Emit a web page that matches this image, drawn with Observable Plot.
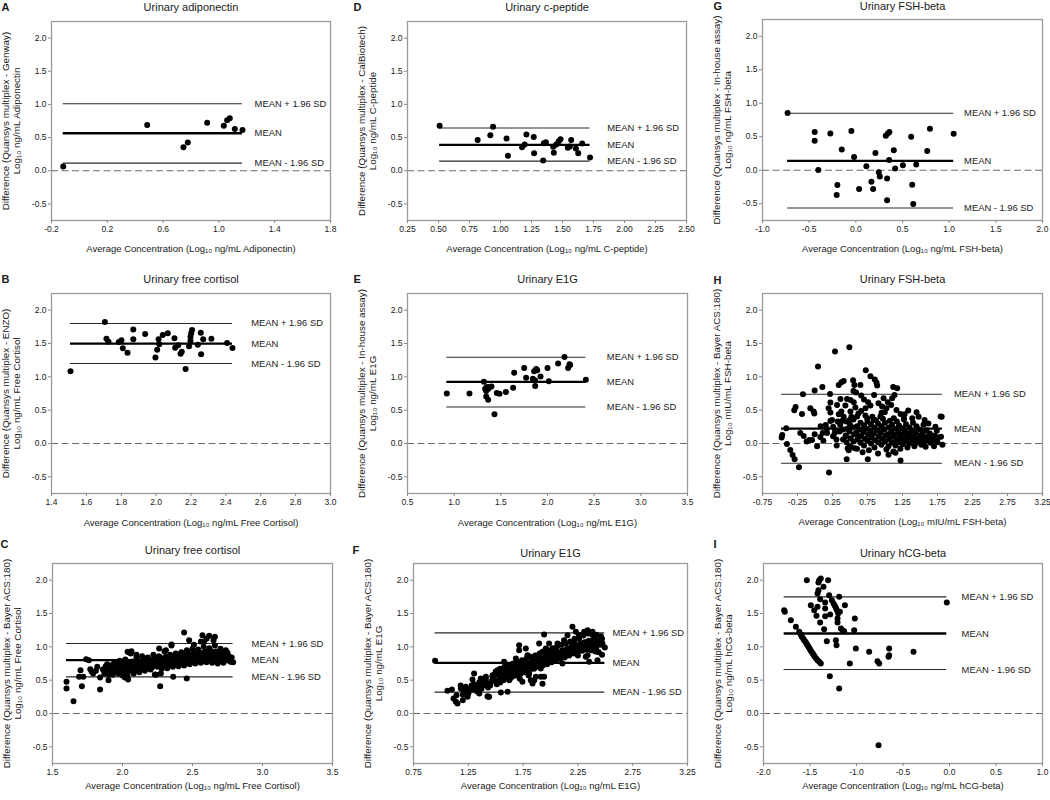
<!DOCTYPE html>
<html><head><meta charset="utf-8">
<script src="https://cdn.jsdelivr.net/npm/d3@7"></script>
<script src="https://cdn.jsdelivr.net/npm/@observablehq/plot@0.6"></script>
<style>
body{margin:0;background:#fff;}
#root{position:relative;width:1050px;height:800px;overflow:hidden;background:#fff;}
#root svg{position:absolute;overflow:visible;}
</style></head><body><div id="root"></div>
<script>
// ---------- data ----------
const limitLabels = ["MEAN + 1.96 SD", "MEAN", "MEAN - 1.96 SD"];
const yTicks = [-0.5, 0, 0.5, 1, 1.5, 2];

const ticksA = [-0.2, 0.2, 0.6, 1.0, 1.4, 1.8];
const ticksD = [0.25, 0.5, 0.75, 1.0, 1.25, 1.5, 1.75, 2.0, 2.25, 2.5];
const ticksG = [-1.0, -0.5, 0, 0.5, 1.0, 1.5, 2.0];
const ticksB = [1.4, 1.6, 1.8, 2.0, 2.2, 2.4, 2.6, 2.8, 3.0];
const ticksE = [0.5, 1.0, 1.5, 2.0, 2.5, 3.0, 3.5];
const ticksH = [-0.75, -0.25, 0.25, 0.75, 1.25, 1.75, 2.25, 2.75, 3.25];
const ticksC = [1.5, 2.0, 2.5, 3.0, 3.5];
const ticksF = [0.75, 1.25, 1.75, 2.25, 2.75, 3.25];
const ticksI = [-2.0, -1.5, -1.0, -0.5, 0, 0.5, 1.0];

const limA = [1.01, 0.565, 0.115];
const limD = [0.645, 0.39, 0.145];
const limG = [0.851, 0.139, -0.564];
const limB = [1.801, 1.497, 1.199];
const limE = [1.294, 0.925, 0.547];
const limH = [0.739, 0.224, -0.296];
const limC = [1.05, 0.8, 0.55];
const limF = [1.21, 0.76, 0.32];
const limI = [1.75, 1.2, 0.66];

const ptsA = [[-0.116,0.065],[0.486,0.69],[0.746,0.355],[0.777,0.425],[0.916,0.725],[1.035,0.68],[1.059,0.76],[1.078,0.79],[1.114,0.63],[1.169,0.615]];

const ptsD = [[0.509,0.68],[0.816,0.465],[0.918,0.535],[0.94,0.665],[1.049,0.485],[1.06,0.225],[1.174,0.355],[1.195,0.395],[1.209,0.545],[1.268,0.51],[1.271,0.265],[1.344,0.155],[1.35,0.415],[1.366,0.43],[1.425,0.36],[1.43,0.27],[1.45,0.395],[1.47,0.445],[1.484,0.475],[1.543,0.345],[1.559,0.365],[1.57,0.465],[1.608,0.335],[1.627,0.265],[1.659,0.41],[1.722,0.2]];

const ptsG = [[-0.731,0.856],[-0.441,0.57],[-0.441,0.44],[-0.402,0.005],[-0.273,0.55],[-0.151,0.31],[-0.198,-0.22],[-0.205,-0.37],[-0.048,0.584],[-0.019,0.198],[0.035,-0.28],[0.113,0.06],[0.21,0.257],[0.167,-0.173],[0.185,-0.28],[0.246,-0.03],[0.257,-0.094],[0.321,0.515],[0.335,-0.124],[0.343,0.55],[0.36,0.57],[0.357,0.153],[0.335,-0.446],[0.407,0.297],[0.421,0.025],[0.504,0.074],[0.593,0.5],[0.604,-0.218],[0.615,-0.505],[0.647,0.084],[0.765,0.287],[0.794,0.619],[1.048,0.545]];

const ptsB = [[1.509,1.085],[1.706,1.821],[1.715,1.572],[1.727,1.527],[1.786,1.522],[1.801,1.547],[1.809,1.428],[1.836,1.363],[1.869,1.711],[1.869,1.562],[1.937,1.642],[1.996,1.289],[2.006,1.408],[2.014,1.562],[2.018,1.488],[2.038,1.627],[2.067,1.652],[2.105,1.577],[2.109,1.438],[2.126,1.473],[2.14,1.348],[2.147,1.378],[2.169,1.119],[2.189,1.458],[2.197,1.602],[2.197,1.542],[2.201,1.652],[2.206,1.701],[2.239,1.483],[2.256,1.662],[2.258,1.338],[2.27,1.562],[2.317,1.572],[2.407,1.507],[2.438,1.433]];

const ptsE = [[0.921,0.751],[1.164,0.751],[1.318,0.925],[1.332,0.82],[1.35,0.846],[1.343,0.786],[1.364,0.816],[1.382,0.846],[1.4,0.856],[1.343,0.706],[1.364,0.657],[1.432,0.438],[1.457,0.756],[1.486,0.746],[1.554,0.771],[1.632,0.836],[1.643,1.06],[1.75,1.134],[1.771,0.985],[1.843,0.97],[1.857,1.085],[1.868,0.945],[1.868,0.861],[1.879,1.119],[1.89,1.10],[1.925,1.005],[2.0,1.134],[2.014,0.935],[2.114,1.199],[2.182,1.299],[2.221,1.134],[2.236,1.189],[2.243,1.179],[2.411,0.955]];

const ptsH = [
 [0.491,1.444],[0.286,1.379],[0.043,1.154],[0.725,1.099],[0.792,1.009],[0.854,0.959],[0.878,0.914],[0.888,0.869],[0.105,0.849],[0.339,0.879],[0.377,0.919],[0.41,0.939],[0.544,0.949],[0.563,0.879],[0.649,0.879],[0.549,0.789],[0.587,0.764],[-0.005,0.794],[-0.172,0.739],[0.215,0.744],[0.845,0.729],[1.117,0.849],[1.174,0.829],[1.136,0.729],[1.102,0.679],[0.22,0.614],[0.363,0.669],[0.458,0.669],[0.506,0.654],[0.195,0.529],[-0.277,0.549],[-0.296,0.499],[-0.186,0.444],[-0.067,0.529],[-0.019,0.479],[-0.01,0.449],[0.22,0.464],[0.377,0.479],[0.315,0.579],[0.434,0.569],[0.554,0.619],[0.577,0.539],[0.506,0.479],[0.659,0.489],[0.721,0.529],[0.759,0.619],[0.792,0.569],[0.907,0.604],[0.959,0.554],[1.021,0.529],[1.088,0.579],[0.997,0.469],[1.164,0.504],[1.222,0.444],[1.332,0.494],[1.451,0.469],[1.389,0.379],[1.566,0.354],[1.795,0.404],[1.269,0.379],[1.126,0.379],[0.935,0.404],[0.84,0.354],[0.745,0.379],[0.601,0.404],[0.496,0.354],[0.387,0.339],[0.324,0.329],[0.22,0.339],[0.243,0.354],[0.153,0.279],[-0.411,0.229],[-0.468,0.129],[-0.477,0.089],[-0.401,-0.006],[-0.353,-0.096],[-0.32,-0.171],[-0.291,-0.236],[-0.229,-0.356],[0.2,-0.436],[0.453,-0.236],[0.754,-0.236],[1.222,-0.256],[-0.21,0.159],[-0.162,0.114],[-0.081,0.054],[-0.043,0.054],[-0.005,0.139],[0.076,0.099],[0.11,0.159],[0.172,0.159],[0.258,0.109],[0.282,0.159],[0.306,0.059],[0.353,0.179],[0.401,0.059],[0.439,0.109],[0.467,-0.071],[0.482,-0.101],[0.506,-0.046],[0.568,-0.071],[0.601,0.129],
 [0.12,0.04],[0.17,0.22],[0.26,0.25],[0.29,0.20],[0.31,-0.03],[0.36,0.28],[0.40,0.21],[0.41,0.40],[0.34,0.44],[-0.12,0.03],[0.03,-0.04],[0.08,0.26],[0.90,-0.15],[1.05,-0.17],[1.15,-0.14],[0.68,-0.13],[1.58,-0.05],[1.70,-0.04],[1.48,0.40],[1.62,0.30],[1.72,0.25],[0.95,0.46],[1.28,0.44],[0.66,0.72],[0.70,0.66],[0.98,0.68],[1.04,0.62],
 [0.45,0.02],[0.44,0.12],[0.46,0.22],[0.45,0.33],
 [0.50,-0.05],[0.51,0.08],[0.49,0.18],[0.50,0.28],[0.52,0.40],
 [0.55,0.03],[0.56,0.14],[0.54,0.24],[0.55,0.36],
 [0.60,-0.08],[0.61,0.06],[0.59,0.16],[0.60,0.26],[0.62,0.45],
 [0.65,0.01],[0.66,0.11],[0.64,0.21],[0.65,0.31],
 [0.70,-0.03],[0.71,0.07],[0.69,0.17],[0.70,0.27],[0.72,0.42],
 [0.75,0.04],[0.76,0.13],[0.74,0.22],[0.75,0.33],[0.77,-0.10],
 [0.80,0.00],[0.81,0.09],[0.79,0.19],[0.80,0.29],[0.82,0.40],
 [0.85,-0.06],[0.86,0.05],[0.84,0.15],[0.85,0.24],[0.87,0.35],
 [0.90,0.02],[0.91,0.11],[0.89,0.20],[0.90,0.30],
 [0.95,-0.02],[0.96,0.07],[0.94,0.16],[0.95,0.26],[0.97,0.37],
 [1.00,0.03],[1.01,0.12],[0.99,0.21],[1.00,0.31],[1.02,-0.09],
 [1.05,-0.04],[1.06,0.06],[1.04,0.14],[1.05,0.24],[1.07,0.34],
 [1.10,0.01],[1.11,0.10],[1.09,0.18],[1.10,0.28],[1.12,-0.12],
 [1.15,-0.03],[1.16,0.05],[1.14,0.13],[1.15,0.22],[1.17,0.33],
 [1.20,0.02],[1.21,0.09],[1.19,0.17],[1.20,0.27],[1.22,-0.08],
 [1.25,-0.01],[1.26,0.06],[1.24,0.14],[1.25,0.23],[1.27,0.36],
 [1.30,0.03],[1.31,0.10],[1.29,0.18],[1.30,0.29],[1.32,-0.06],
 [1.35,0.00],[1.36,0.07],[1.34,0.15],[1.35,0.24],
 [1.40,0.04],[1.41,0.11],[1.39,0.19],[1.40,0.31],[1.42,-0.04],
 [1.45,0.01],[1.46,0.08],[1.44,0.16],[1.45,0.26],
 [1.50,0.05],[1.51,0.12],[1.49,0.21],[1.52,-0.02],
 [1.55,0.02],[1.56,0.09],[1.54,0.17],[1.55,0.28],
 [1.60,0.04],[1.61,0.11],[1.59,0.20],
 [1.65,0.01],[1.66,0.07],[1.64,0.15],
 [1.70,0.05],[1.71,0.12],
 [1.75,0.02],[1.76,0.09],[1.74,0.19],
 [1.80,0.10],[1.81,0.40],[1.82,-0.02]
];

const ptsC = [
 [1.60,0.475],[1.60,0.375],[1.65,0.185],[1.69,0.55],[1.70,0.65],[1.72,0.55],[1.71,0.41],[1.74,0.815],[1.76,0.80],[1.77,0.665],[1.78,0.625],[1.79,0.60],[1.84,0.36],[1.84,0.54],[1.90,0.5],[1.82,0.70],[1.81,0.64],
 [1.87,0.60],[1.86,0.66],[1.88,0.71],[1.89,0.63],[1.90,0.69],[1.89,0.74],[1.90,0.58],[1.91,0.62],[1.92,0.67],[1.91,0.72],
 [1.93,0.58],[1.94,0.65],[1.93,0.70],[1.94,0.76],[1.95,0.63],[1.96,0.68],[1.95,0.73],[1.97,0.60],[1.98,0.66],[1.97,0.71],[1.98,0.79],
 [1.99,0.64],[2.00,0.69],[1.99,0.75],[2.00,0.57],[2.01,0.62],[2.02,0.68],[2.01,0.72],[2.02,0.81],[2.03,0.66],[2.04,0.71],[2.03,0.76],[2.04,0.51],
 [2.05,0.64],[2.06,0.70],[2.05,0.74],[2.06,0.90],[2.07,0.67],[2.08,0.72],[2.07,0.78],[2.08,0.60],[2.09,0.65],[2.10,0.71],[2.09,0.75],[2.10,0.84],
 [2.11,0.68],[2.12,0.73],[2.11,0.79],[2.12,0.62],[2.13,0.66],[2.14,0.72],[2.13,0.77],[2.14,0.86],[2.15,0.70],[2.16,0.75],[2.15,0.80],[2.16,0.64],
 [2.17,0.68],[2.18,0.73],[2.17,0.78],[2.18,0.84],[2.19,0.71],[2.20,0.76],[2.19,0.81],[2.20,0.66],[2.21,0.69],[2.22,0.74],[2.21,0.80],[2.22,0.88],
 [2.23,0.72],[2.24,0.77],[2.23,0.82],[2.24,0.58],[2.25,0.70],[2.26,0.76],[2.25,0.81],[2.26,0.86],[2.27,0.73],[2.28,0.78],[2.27,0.84],[2.28,0.67],
 [2.29,0.71],[2.30,0.77],[2.29,0.82],[2.30,0.93],[2.31,0.74],[2.32,0.79],[2.31,0.85],[2.32,0.68],[2.33,0.72],[2.34,0.78],[2.33,0.83],[2.34,0.88],
 [2.35,0.75],[2.36,0.81],[2.35,0.86],[2.36,0.70],[2.35,1.02],[2.37,0.74],[2.38,0.79],[2.37,0.84],[2.38,0.90],[2.39,0.76],[2.40,0.82],[2.39,0.87],[2.40,0.71],
 [2.41,0.75],[2.42,0.80],[2.41,0.85],[2.42,0.92],[2.43,0.78],[2.44,0.83],[2.43,0.88],[2.44,0.72],[2.45,0.76],[2.46,0.82],[2.45,0.87],[2.46,0.95],
 [2.47,0.79],[2.48,0.84],[2.47,0.90],[2.48,0.74],[2.49,0.77],[2.50,0.83],[2.49,0.88],[2.50,0.97],[2.51,0.80],[2.52,0.86],[2.51,0.91],[2.52,0.75],[2.51,1.03],
 [2.53,0.78],[2.54,0.84],[2.53,0.89],[2.54,0.96],[2.55,0.81],[2.56,0.87],[2.55,0.92],[2.56,0.76],[2.57,0.79],[2.58,0.85],[2.57,0.90],[2.58,1.00],
 [2.59,0.82],[2.60,0.88],[2.59,0.93],[2.60,0.77],[2.61,0.80],[2.62,0.86],[2.61,0.91],[2.62,0.98],[2.63,0.83],[2.64,0.88],[2.63,0.94],[2.64,0.76],
 [2.65,0.81],[2.66,0.87],[2.65,0.92],[2.66,1.02],[2.67,0.82],[2.68,0.88],[2.67,0.93],[2.68,0.75],[2.69,0.80],[2.70,0.86],[2.69,0.91],[2.70,0.97],
 [2.71,0.81],[2.72,0.87],[2.71,0.92],[2.72,0.76],[2.73,0.79],[2.74,0.85],[2.73,0.90],[2.75,0.80],[2.76,0.86],[2.75,0.91],[2.77,0.78],[2.78,0.84],[2.79,0.77],
 [2.036,0.925],[2.064,0.935],[2.017,0.54],[2.036,0.565],[2.231,0.585],[2.274,0.6],[2.269,0.41],[2.362,0.55],[2.459,0.525],[2.262,0.975],[2.31,0.95],[2.35,1.035],[2.44,1.215],[2.476,1.1],[2.571,1.175],[2.619,1.165],[2.65,1.1],[2.583,1.075],[2.738,0.95],[2.774,0.775],[2.05,0.91],[2.10,0.88],[2.56,1.08],[2.60,1.12],[2.66,1.15]
];

const ptsF = [
 [0.947,0.79],[1.06,0.34],[1.115,0.225],[1.136,0.175],[1.151,0.15],[1.142,0.275],[1.182,0.375],[1.212,0.325],[1.227,0.4],[1.243,0.25],[1.273,0.35],[1.303,0.39],[1.288,0.51],[1.303,0.6],[1.334,0.425],[1.364,0.525],[1.379,0.465],[1.395,0.435],[1.41,0.55],[1.431,0.25],[1.449,0.45],[1.471,0.575],[1.486,0.5],[1.516,0.65],[1.531,0.575],[1.547,0.315],[1.541,0.465],[1.562,0.625],[1.577,0.775],[1.577,0.525],[1.607,0.7],[1.607,0.6],[1.623,0.5],[1.638,0.725],[1.653,0.65],[1.668,0.575],[1.684,0.825],[1.699,0.725],[1.714,1.025],[1.714,0.95],[1.729,0.625],[1.744,0.475],[1.759,0.775],[1.775,0.7],[1.775,0.975],[1.79,0.875],[1.805,0.6],[1.82,0.5],[1.835,0.775],[1.851,0.5],[1.866,0.85],[1.896,1.05],[1.911,0.675],[1.911,0.55],[1.927,0.925],[1.942,1.185],[1.957,0.975],[1.966,0.875],[1.987,1.05],[2.003,0.925],[2.018,0.825],[2.048,0.975],[2.064,1.05],[2.079,0.875],[2.109,0.75],[2.124,1.1],[2.155,1.175],[2.17,0.975],[2.2,1.3],[2.216,1.075],[2.231,1.225],[2.261,1.125],[2.277,1.0],[2.307,1.225],[2.322,0.85],[2.337,1.075],[2.353,0.775],[2.383,0.95],[2.398,1.125],[2.429,1.075],
 [2.414,0.975],[2.429,0.8],[2.453,1.125],[2.474,1.05],[2.496,0.99],[2.338,1.25],[2.383,1.225],[2.277,1.05],[2.322,1.0],[2.338,0.875],[1.44,0.25],[1.425,0.26],[1.608,0.325],[1.836,0.45],[1.927,0.445],[1.866,0.55],[1.942,0.55],[1.20,0.20],[1.25,0.30],[1.35,0.30],[1.18,0.42],[1.10,0.36],[2.36,1.22],[2.42,1.18],[2.46,1.16],[2.40,1.05],[2.44,0.92],[2.47,0.88],[2.26,1.18],[2.25,0.87],[1.20,0.28],[1.22,0.34],[1.26,0.36],[1.28,0.42],
 [1.31,0.36],[1.30,0.44],[1.34,0.40],[1.35,0.47],[1.33,0.33],[1.38,0.42],[1.39,0.50],[1.37,0.37],[1.42,0.45],[1.41,0.52],[1.43,0.39],[1.46,0.48],[1.47,0.55],[1.45,0.42],
 [1.50,0.50],[1.49,0.58],[1.51,0.44],[1.50,0.63],[1.54,0.53],[1.55,0.60],[1.53,0.47],[1.54,0.67],[1.58,0.56],[1.59,0.63],[1.57,0.50],[1.58,0.70],
 [1.62,0.58],[1.61,0.65],[1.63,0.52],[1.62,0.72],[1.66,0.61],[1.67,0.68],[1.65,0.55],[1.66,0.75],[1.70,0.63],[1.71,0.70],[1.69,0.57],[1.70,0.77],[1.72,0.52],
 [1.74,0.66],[1.75,0.73],[1.73,0.60],[1.74,0.80],[1.78,0.68],[1.79,0.75],[1.77,0.62],[1.78,0.82],[1.80,0.57],[1.82,0.71],[1.83,0.78],[1.81,0.65],[1.82,0.85],
 [1.86,0.73],[1.87,0.80],[1.85,0.67],[1.86,0.87],[1.90,0.76],[1.91,0.83],[1.89,0.70],[1.90,0.90],[1.94,0.78],[1.95,0.85],[1.93,0.72],[1.94,0.93],
 [1.98,0.80],[1.99,0.88],[1.97,0.74],[1.98,0.95],[2.02,0.83],[2.03,0.90],[2.01,0.77],[2.02,0.98],[2.06,0.85],[2.07,0.92],[2.05,0.79],[2.06,1.00],
 [2.10,0.88],[2.11,0.95],[2.09,0.82],[2.10,1.03],[2.14,0.90],[2.15,0.97],[2.13,0.84],[2.14,1.05],[2.18,0.93],[2.19,1.00],[2.17,0.87],[2.18,1.08],
 [2.22,0.95],[2.23,1.02],[2.21,0.90],[2.22,1.12],[2.26,0.97],[2.27,1.05],[2.25,0.92],[2.26,1.15],[2.30,0.99],[2.31,1.07],[2.29,0.94],[2.30,1.17],
 [2.34,1.01],[2.35,1.09],[2.33,0.96],[2.34,1.20],[2.38,1.02],[2.39,1.10],[2.37,0.95],[2.38,1.18],[2.42,1.00],[2.43,1.08],[2.41,0.93],[2.46,1.03],[2.47,1.12]
];

const ptsI = [[-1.778,1.55],[-1.771,1.525],[-1.706,1.4],[-1.652,1.3],[-1.616,1.225],[-1.599,1.185],[-1.588,1.15],[-1.573,1.125],[-1.563,1.1],[-1.548,1.075],[-1.538,1.05],[-1.527,1.025],[-1.516,1.0],[-1.505,0.975],[-1.495,0.95],[-1.484,0.925],[-1.47,0.9],[-1.459,0.875],[-1.448,0.85],[-1.434,0.825],[-1.419,0.8],[-1.401,0.775],[-1.384,0.75],[-1.534,2.0],[-1.401,2.0],[-1.384,2.025],[-1.409,1.965],[-1.305,2.0],[-1.355,1.9],[-1.409,1.85],[-1.419,1.8],[-1.391,1.715],[-1.491,1.625],[-1.455,1.55],[-1.43,1.465],[-1.419,1.6],[-1.391,1.365],[-1.337,1.665],[-1.337,1.575],[-1.337,1.46],[-1.348,1.265],[-1.294,1.775],[-1.283,1.485],[-1.265,1.7],[-1.247,1.65],[-1.233,1.615],[-1.222,1.585],[-1.211,1.55],[-1.197,1.5],[-1.204,1.425],[-1.204,1.365],[-1.186,1.75],[-1.179,1.525],[-1.168,1.275],[-1.151,1.25],[-1.133,1.235],[-1.125,1.625],[-1.319,1.085],[-1.222,1.1],[-1.215,1.025],[-1.287,0.56],[-1.186,0.375],[-1.018,1.425],[-1.025,1.25],[-1.007,0.975],[-1.072,0.75],[-0.864,0.925],[-0.774,0.785],[-0.756,0.75],[-0.649,0.975],[-0.649,0.875],[-0.656,0.85],[-0.387,0.925],[-0.029,1.665],[-0.763,-0.475]];

// ---------- panels ----------
const panels = [
 {letter:"A", title:"Urinary adiponectin", y1:"Difference (Quansys multiplex - Genway)", y2:"Log₁₀ ng/mL Adiponectin", xl:"Average Concentration (Log₁₀ ng/mL Adiponectin)", pts:ptsA, lim:limA, xDomain:[-0.2,1.8], ticks:ticksA, dec:1},
 {letter:"D", title:"Urinary c-peptide", y1:"Difference (Quansys multiplex - CalBiotech)", y2:"Log₁₀ ng/mL C-peptide", xl:"Average Concentration (Log₁₀ ng/mL C-peptide)", pts:ptsD, lim:limD, xDomain:[0.25,2.5], ticks:ticksD, dec:2},
 {letter:"G", title:"Urinary FSH-beta", y1:"Difference (Quansys multiplex - In-house assay)", y2:"Log₁₀ ng/mL FSH-beta", xl:"Average Concentration (Log₁₀ ng/mL FSH-beta)", pts:ptsG, lim:limG, xDomain:[-1,2], ticks:ticksG, dec:1},
 {letter:"B", title:"Urinary free cortisol", y1:"Difference (Quansys multiplex - ENZO)", y2:"Log₁₀ ng/mL Free Cortisol", xl:"Average Concentration (Log₁₀ ng/mL Free Cortisol)", pts:ptsB, lim:limB, xDomain:[1.4,3.0], ticks:ticksB, dec:1},
 {letter:"E", title:"Urinary E1G", y1:"Difference (Quansys multiplex - In-house assay)", y2:"Log₁₀ ng/mL E1G", xl:"Average Concentration (Log₁₀ ng/mL E1G)", pts:ptsE, lim:limE, xDomain:[0.5,3.5], ticks:ticksE, dec:1},
 {letter:"H", title:"Urinary FSH-beta", y1:"Difference (Quansys multiplex - Bayer ACS:180)", y2:"Log₁₀ mIU/mL FSH-beta", xl:"Average Concentration (Log₁₀ mIU/mL FSH-beta)", pts:ptsH, lim:limH, xDomain:[-0.75,3.25], ticks:ticksH, dec:2},
 {letter:"C", title:"Urinary free cortisol", y1:"Difference (Quansys multiplex - Bayer ACS:180)", y2:"Log₁₀ ng/mL Free Cortisol", xl:"Average Concentration (Log₁₀ ng/mL Free Cortisol)", pts:ptsC, lim:limC, xDomain:[1.5,3.5], ticks:ticksC, dec:1},
 {letter:"F", title:"Urinary E1G", y1:"Difference (Quansys multiplex - Bayer ACS:180)", y2:"Log₁₀ ng/mL E1G", xl:"Average Concentration (Log₁₀ ng/mL E1G)", pts:ptsF, lim:limF, xDomain:[0.75,3.25], ticks:ticksF, dec:2},
 {letter:"I", title:"Urinary hCG-beta", y1:"Difference (Quansys multiplex - Bayer ACS:180)", y2:"Log₁₀ ng/mL hCG-beta", xl:"Average Concentration (Log₁₀ ng/mL hCG-beta)", pts:ptsI, lim:limI, xDomain:[-2,1], ticks:ticksI, dec:1}
];

// layout (page pixels): frame box [left,right,top,bottom], title y, letter [x,y], x-label y, label fraction
const layout = {
 A:{box:[51,330,21,220], titleY:7, letterXY:[1,7], xlY:248, frac:0.728},
 D:{box:[407,686,21,220], titleY:7, letterXY:[353,7], xlY:248, frac:0.716},
 G:{box:[762,1042,19,220], titleY:6, letterXY:[713,6], xlY:248, frac:0.72},
 B:{box:[51,330,293,493], titleY:279, letterXY:[1,279], xlY:522, frac:0.716},
 E:{box:[407,687,293,493], titleY:279, letterXY:[353,279], xlY:522, frac:0.712},
 H:{box:[762,1042,293,493], titleY:279, letterXY:[713,280], xlY:521, frac:0.684},
 C:{box:[52,332,563,763], titleY:550, letterXY:[0,544], xlY:785, frac:0.711},
 F:{box:[413,687,563,763], titleY:553, letterXY:[352,550], xlY:785, frac:0.726},
 I:{box:[763,1042,563,763], titleY:553, letterXY:[713,544], xlY:785, frac:0.71}
};

const FONT = '"Liberation Sans", Arial, Helvetica, sans-serif';
const root = document.getElementById("root");

function drawPanel(p) {
  const L = layout[p.letter];
  const [fl, fr, ft, fb] = L.box;
  const fw = fr - fl, fh = fb - ft;
  const ML = 56, MR = 6, MT = 24, MB = 34;
  const xs = p.pts.map(d => d[0]);
  const x0 = d3.min(xs), x1 = d3.max(xs);
  const rows = p.lim.map((v, i) => ({y: v, x1: x0, x2: x1, label: limitLabels[i]}));
  const svg = Plot.plot({
    width: fw + ML + MR, height: fh + MT + MB,
    marginLeft: ML, marginRight: MR, marginTop: MT, marginBottom: MB,
    style: {fontFamily: FONT, fontSize: "8.5px", color: "#1a1a1a", background: "transparent", overflow: "visible"},
    x: {domain: p.xDomain},
    y: {domain: [-0.75, 2.25]},
    marks: [
      Plot.ruleY([0], {stroke: "#6a6a6a", strokeWidth: 1.2, strokeDasharray: "7,3.5"}),
      Plot.ruleY([rows[0], rows[2]], {y: "y", x1: "x1", x2: "x2", stroke: "#2a2a2a", strokeWidth: 1.1}),
      Plot.ruleY([rows[1]], {y: "y", x1: "x1", x2: "x2", stroke: "#000", strokeWidth: 2.3}),
      Plot.dot(p.pts, {x: d => d[0], y: d => d[1], r: 3, fill: "#000"}),
      Plot.text(rows, {y: "y", text: "label", frameAnchor: "left", dx: L.frac * fw, textAnchor: "start", fontSize: 9.4, lineAnchor: "middle"}),
      Plot.frame({stroke: "#9a9a9a", strokeWidth: 1.3}),
      Plot.axisX({ticks: p.ticks, tickFormat: d => d.toFixed(p.dec), tickSize: 3, tickPadding: 2.5, label: null, stroke: "#888", fontSize: 8.5}),
      Plot.axisY({ticks: yTicks, tickFormat: d => d.toFixed(1), tickSize: 3, tickPadding: 2, label: null, stroke: "#888", fontSize: 8.5}),
      Plot.text([p.title], {text: d => d, frameAnchor: "top", dy: L.titleY - ft, fontSize: 11, lineAnchor: "middle"}),
      Plot.text([p.letter], {text: d => d, frameAnchor: "top-left", dx: L.letterXY[0] - fl, dy: L.letterXY[1] - ft, textAnchor: "start", fontWeight: "bold", fontSize: 11, lineAnchor: "middle"}),
      Plot.text([p.xl], {text: d => d, frameAnchor: "bottom", dy: L.xlY - fb, fontSize: 9.5, lineAnchor: "middle"}),
      Plot.text([p.y1 + "\n" + p.y2], {text: d => d, frameAnchor: "left", dx: -40.5, rotate: -90, textAnchor: "middle", fontSize: 9.8, lineHeight: 1.12, lineAnchor: "middle"})
    ]
  });
  svg.style.left = (fl - ML) + "px";
  svg.style.top = (ft - MT) + "px";
  root.appendChild(svg);
}
panels.forEach(drawPanel);
</script>
</body></html>
